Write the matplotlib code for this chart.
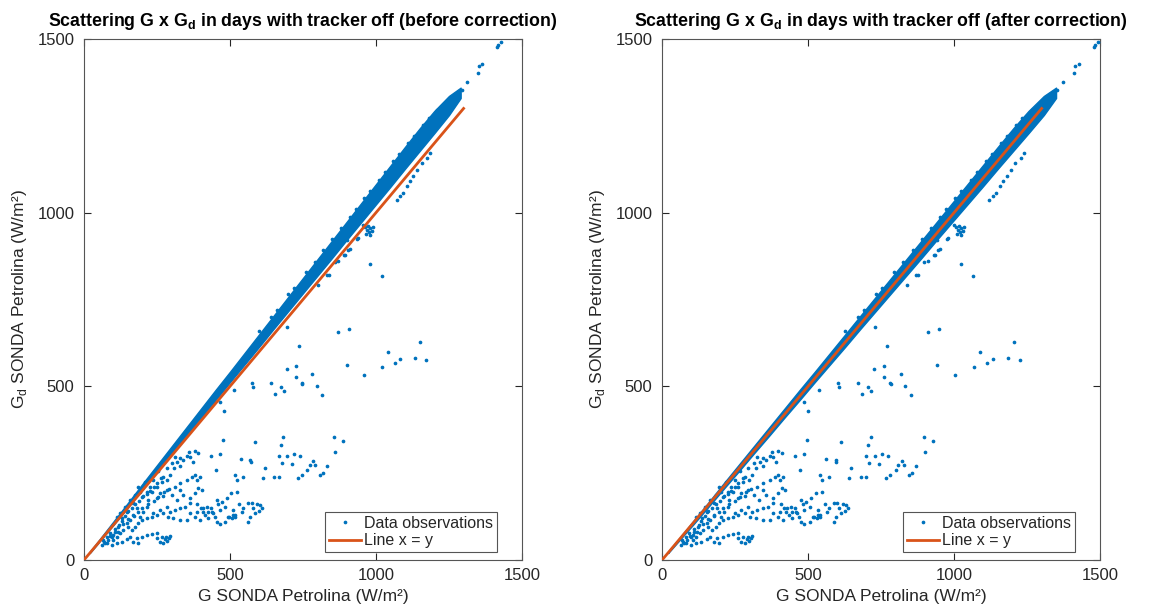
import matplotlib
matplotlib.use('Agg')
import numpy as np
import matplotlib.pyplot as plt

plt.rcParams['font.family'] = ['Liberation Sans', 'DejaVu Sans']
plt.rcParams['mathtext.fontset'] = 'custom'
plt.rcParams['mathtext.rm'] = 'Liberation Sans'
plt.rcParams['mathtext.bf'] = 'Liberation Sans:bold'

# faixa densa de observacoes (envelope, antes da correcao)
G_faixa = [20, 50, 100, 150, 200, 250, 300, 350, 400, 450, 500, 550, 600, 650,
           700, 750, 800, 850, 900, 950, 1000, 1050, 1100, 1150, 1200, 1250, 1290]
Gd_faixa_inf = [20, 50, 100, 151, 203, 254, 306, 357, 409, 460, 512, 563, 614, 666,
                717, 768, 819, 870, 922, 973, 1024, 1075, 1127, 1178, 1229, 1281, 1330]
Gd_faixa_sup = [24, 56, 110, 164, 219, 273, 327, 381, 435, 489, 542, 596, 650, 704,
                758, 812, 866, 920, 974, 1028, 1082, 1136, 1190, 1243, 1293, 1336, 1360]

# observacoes dispersas (G, Gd) antes da correcao
G_disp = [361, 380, 392, 352, 329, 312, 320, 340, 300, 283, 308, 329, 363, 374,
          255, 272, 285, 295, 266, 249, 238, 232, 260, 283, 312, 329, 352, 369, 380, 386, 397, 329, 340, 363, 392, 403, 380,
          220, 249, 272, 300, 317, 283, 260, 238, 215, 203, 192, 169, 158, 146, 129, 118, 106, 95, 83, 72, 61, 66, 89, 101,
          112, 123, 135, 152, 163, 175, 186, 198, 215, 232, 249, 272, 295, 312, 329, 346, 363,
          78, 95, 112, 129, 146, 158, 180, 198, 215, 232, 249, 266, 277, 285, 292, 272, 260, 281, 295, 249, 186, 169,
          158, 169, 140, 146, 123, 112, 180, 203, 215, 226, 192, 175, 186, 209,
          130, 140, 150, 165, 175, 190, 200, 215, 225, 240, 250, 265, 120, 135, 150, 170, 185, 200, 220, 240,
          255, 275, 290, 105, 90, 80, 70, 100, 115,
          414, 426, 397, 380, 363, 352, 329, 306, 289, 386, 409, 426, 443,
          454, 460, 471, 489, 483, 466, 449, 454, 466, 483, 494, 506, 517, 511, 498, 509, 518,
          563, 574, 580, 586, 569, 563, 591, 603, 608, 600, 532, 546, 540, 422, 434, 437, 388, 400, 406,
          576, 579, 640, 654, 479, 514, 466, 857, 887, 860, 586, 475, 683, 675,
          669, 696, 720, 740, 785, 791, 538, 569, 571, 466, 434, 452, 620, 612, 652, 669,
          677, 711, 734, 745, 765, 774, 808, 817, 833, 517, 523, 546, 503, 525,
          979, 1019, 870, 907, 737, 1151, 1042, 1082, 1065, 1134, 1171, 901, 1021, 959,
          694, 727, 727, 781, 745, 748, 797, 814, 675, 685, 696, 833, 802,
          894, 905, 934, 937, 858, 870, 891, 910, 901, 839,
          1185, 1174, 1156, 1141, 1128, 1116, 1105, 1094, 1082, 1071,
          955, 962, 968, 975, 980, 972, 985, 965, 990, 978,
          600, 640, 700, 760, 820, 880, 930, 980, 1030, 1080, 1130, 1180, 1230,
          660, 720, 790, 850, 910, 960, 1010, 1060, 1110, 1160, 1210,
          1293, 1313, 1348, 1353, 1364, 1413, 1419, 1427]
Gd_disp = [312, 315, 309, 300, 293, 296, 283, 288, 279, 264, 264, 271, 296, 281,
           257, 240, 231, 245, 226, 211, 231, 197, 192, 202, 211, 221, 231, 238, 245, 231, 240, 202, 187, 178, 206, 202, 192,
           173, 178, 183, 187, 173, 154, 144, 135, 154, 139, 125, 130, 115, 106, 111, 96, 82, 67, 58, 48, 43, 58, 77, 58,
           67, 77, 87, 96, 87, 96, 106, 115, 120, 125, 130, 135, 139, 144, 149, 154, 163,
           48, 43, 48, 53, 60, 67, 62, 67, 72, 75, 79, 65, 60, 55, 62, 50, 53, 67, 69, 62, 50, 53,
           173, 163, 154, 139, 135, 125, 149, 183, 197, 211, 197, 187, 211, 226,
           120, 128, 140, 150, 160, 170, 180, 190, 200, 210, 222, 235, 100, 105, 118, 128, 138, 150, 160, 170,
           180, 195, 205, 90, 70, 65, 52, 72, 80,
           130, 120, 115, 125, 135, 115, 115, 120, 125, 139, 149, 139, 135,
           173, 161, 168, 178, 154, 144, 125, 110, 104, 108, 125, 120, 130, 144, 123, 130, 125,
           163, 165, 149, 134, 125, 110, 161, 158, 149, 142, 161, 149, 139, 154, 149, 139, 161, 149, 139,
           511, 498, 509, 478, 430, 490, 456, 353, 344, 312, 341, 346, 354, 331,
           298, 298, 305, 300, 286, 274, 290, 288, 283, 305, 298, 259, 264, 235, 240, 238,
           279, 277, 235, 245, 259, 274, 245, 250, 271, 245, 231, 240, 192, 197,
           853, 818, 657, 665, 616, 627, 600, 578, 567, 583, 575, 560, 555, 533,
           549, 558, 527, 535, 511, 506, 502, 475, 498, 488, 671, 820, 793,
           879, 893, 924, 927, 857, 860, 877, 895, 922, 821,
           1172, 1158, 1143, 1124, 1105, 1090, 1076, 1057, 1047, 1037,
           965, 958, 950, 945, 955, 962, 948, 940, 960, 935,
           660, 701, 766, 829, 893, 956, 1010, 1063, 1117, 1170, 1222, 1273, 1308,
           719, 784, 859, 924, 988, 1041, 1095, 1148, 1200, 1252, 1297,
           1354, 1376, 1403, 1422, 1429, 1478, 1484, 1491]

fator_correcao = 1.046   # correcao aplicada em G
linha_xy = [0, 1300]

azul = '#0072BD'
laranja = '#D95319'
cor_texto = '#262626'

fig = plt.figure(figsize=(11.52, 6.16), dpi=100)
ax1 = fig.add_axes([0.0729, 0.0909, 0.3802, 0.8458])
ax2 = fig.add_axes([0.5747, 0.0909, 0.3802, 0.8458])

titulos = [r'Scattering G x G$_\mathbf{d}$ in days with tracker off (before correction)',
           r'Scattering G x G$_\mathbf{d}$ in days with tracker off (after correction)']

for ax, fator, titulo in zip([ax1, ax2], [1.0, fator_correcao], titulos):
    gx = np.array(G_faixa) * fator
    ax.fill_between(gx, Gd_faixa_inf, Gd_faixa_sup, color=azul, lw=1.0,
                    edgecolor=azul, zorder=2)
    ax.plot(np.array(G_disp) * fator, Gd_disp, '.', color=azul, ms=3.3,
            label='Data observations', zorder=3)
    ax.plot(linha_xy, linha_xy, '-', color=laranja, lw=2, label='Line x = y', zorder=4)

    ax.set_xlim(0, 1500)
    ax.set_ylim(0, 1500)
    ax.set_xticks([0, 500, 1000, 1500])
    ax.set_yticks([0, 500, 1000, 1500])
    ax.tick_params(direction='in', top=True, right=True, length=5, width=0.8,
                   labelsize=12, colors=cor_texto, pad=6)
    ax.tick_params(axis='y', pad=7)
    for s in ax.spines.values():
        s.set_color('#555555')
        s.set_linewidth(0.8)
    ax.set_xlabel('G SONDA Petrolina (W/m²)', fontsize=12.5, color=cor_texto, labelpad=4)
    ax.set_ylabel(r'G$_\mathrm{d}$ SONDA Petrolina (W/m²)', fontsize=12.5, color=cor_texto,
                  labelpad=6)
    ax.set_title(titulo, fontsize=12.8, fontweight='bold', color='black', pad=9)

    leg = ax.legend(loc='lower right', bbox_to_anchor=(0.943, 0.015), borderaxespad=0,
                    fontsize=11.5, handlelength=2.0, handletextpad=0.2,
                    labelspacing=0.15, borderpad=0.25, fancybox=False, framealpha=1)
    leg.get_frame().set_edgecolor('#555555')
    leg.get_frame().set_linewidth(0.8)
    for t in leg.get_texts():
        t.set_color(cor_texto)

fig.savefig('out.png', dpi=100)
